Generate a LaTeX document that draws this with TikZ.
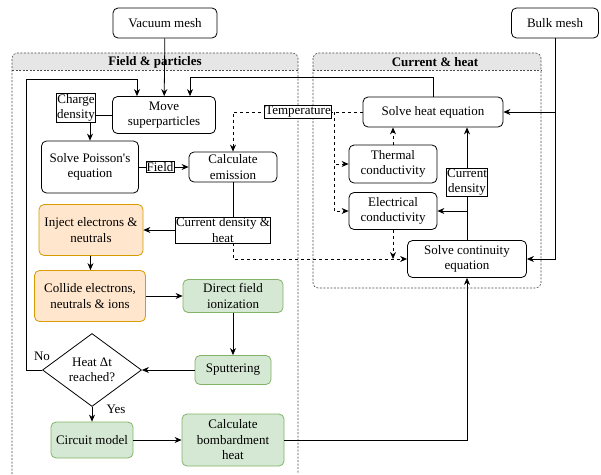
\documentclass[tikz,border=0pt]{standalone}
\usepackage{fontspec}
\setmainfont{Liberation Serif}[Ligatures=TeXOff]
\usetikzlibrary{arrows.meta,shapes.geometric}
\definecolor{orfill}{HTML}{FFE6CC}
\definecolor{ordraw}{HTML}{D79B00}
\definecolor{grfill}{HTML}{D5E8D4}
\definecolor{grdraw}{HTML}{82B366}
\definecolor{hdrfill}{HTML}{E6E6E6}
\begin{document}
\begin{tikzpicture}[x=1pt, y=-1pt, line width=0.8pt,
  font=\fontsize{13}{15.5}\selectfont,
  proc/.style={draw, rounded corners=5pt, align=center, inner sep=1pt},
  orbox/.style={proc, fill=orfill, draw=ordraw},
  grbox/.style={proc, fill=grfill, draw=grdraw},
  lbl/.style={draw, fill=white, align=center, inner sep=0.6pt},
  frame/.style={draw=black!70, dashed, dash pattern=on 2pt off 1.5pt, line width=0.6pt},
  arr/.style={-{Stealth[length=7pt, width=6pt]}}]
\useasboundingbox (0,0) rectangle (601,474);
% containers
\fill[hdrfill] (12,70) [rounded corners=5pt] -- (12,53) -- (298,53) [sharp corners] -- (298,70) -- cycle;
\draw[frame] (12,474) [rounded corners=5pt] -- (12,53) -- (298,53) [sharp corners] -- (298,474);
\draw[frame] (12,70) -- (298,70);
\node[font=\fontsize{13}{15.5}\selectfont\bfseries] (fptitle) at (155,62) {Field \& particles};
\fill[hdrfill] (313,70) [rounded corners=5pt] -- (313,53) -- (541,53) [sharp corners] -- (541,70) -- cycle;
\draw[frame, rounded corners=5pt] (313,53) rectangle (541,288);
\draw[frame] (313,70) -- (541,70);
\node[font=\fontsize{13}{15.5}\selectfont\bfseries] (chtitle) at (435,62) {Current \& heat};
% nodes
\node[proc, minimum width=104pt, minimum height=30pt] (vac) at (165,23) {Vacuum mesh};
\node[proc, minimum width=87pt, minimum height=30pt] (bulk) at (555,23) {Bulk mesh};
\node[proc, minimum width=103pt, minimum height=37pt] (move) at (164,115) {Move\\superparticles};
\node[proc, minimum width=97pt, minimum height=52pt] (poisson) at (90,167) {Solve Poisson's\\equation};
\node[proc, minimum width=88pt, minimum height=30pt] (emission) at (233,167) {Calculate\\emission};
\node[orbox, minimum width=104pt, minimum height=51pt] (inject) at (91,230) {Inject electrons \&\\neutrals};
\node[orbox, minimum width=111pt, minimum height=51pt] (collide) at (90,296) {Collide electrons,\\neutrals \& ions};
\node[grbox, minimum width=100pt, minimum height=33pt] (direct) at (233,296) {Direct field\\ionization};
\node[grbox, minimum width=76pt, minimum height=29pt] (sputter) at (233,370) {Sputtering};
\node[draw, diamond, align=center, inner sep=0pt, minimum width=99pt, minimum height=73pt] (reached) at (92,370) {Heat Δt\\reached?};
\node[grbox, minimum width=82pt, minimum height=36pt] (circuit) at (92,440) {Circuit model};
\node[grbox, minimum width=102pt, minimum height=52pt] (bombard) at (233,440) {Calculate\\bombardment\\heat};
\node[proc, minimum width=140pt, minimum height=30pt] (heat) at (433,112) {Solve heat equation};
\node[proc, minimum width=88pt, minimum height=38pt] (thermal) at (393,164) {Thermal\\conductivity};
\node[proc, minimum width=88pt, minimum height=37pt] (elec) at (393,211) {Electrical\\conductivity};
\node[proc, minimum width=119pt, minimum height=37pt] (cont) at (467,259) {Solve continuity\\equation};
\coordinate (noturn) at (26,79);
\coordinate (tsplit) at (334,112);
\coordinate (csplit) at (467,211);
% connectors
\draw[arr] (vac) -- (move);
\draw[arr] (reached.west) -| (noturn) -| ([xshift=-27pt]move.north);
\draw[arr] (heat.north) -- ++(0,-19) -| ([xshift=26pt]move.north);
\draw[arr] (move.west) -| (poisson.north);
\draw[arr] (poisson) -- (emission);
\draw[arr] (emission.south) |- (inject.east);
\draw[arr] (inject) -- (collide);
\draw[arr] (collide) -- (direct);
\draw[arr] (direct) -- (sputter);
\draw[arr] (sputter) -- (reached);
\draw[arr] (reached) -- (circuit);
\draw[arr] (circuit) -- (bombard);
\draw[arr] (bombard.east) -| (cont.south);
\draw[arr] (cont.north) -- (cont.north |- heat.south);
\draw[arr] (csplit) -- (elec.east);
\draw[arr] (bulk.south) |- (cont.east);
\draw[arr] (bulk.south |- heat.east) -- (heat.east);
\draw[arr, dashed] (heat.west) -| (emission.north);
\draw[arr, dashed] (tsplit) |- (thermal.west);
\draw[arr, dashed] (tsplit) |- (elec.west);
\draw[arr, dashed] (thermal.north) -- (heat.south -| thermal.north);
\draw[arr, dashed] (elec.south) -- (elec.south |- cont.west);
% edge labels
\node[lbl] (chargelbl) at (76,108) {Charge\\density};
\node[lbl] (fieldlbl) at (160,167) {Field};
\node[lbl] (templbl) at (298,112) {Temperature};
\node[lbl] (cdhlbl) at (223,230) {Current density \&\\heat};
\node[lbl] (cdlbl) at (467,182) {Current\\density};
\draw[arr, dashed] (cdhlbl.south -| emission.south) |- (cont.west);
% decision labels
\node (nolbl) at (42,356) {No};
\node (yeslbl) at (116,409) {Yes};
\end{tikzpicture}
\end{document}
